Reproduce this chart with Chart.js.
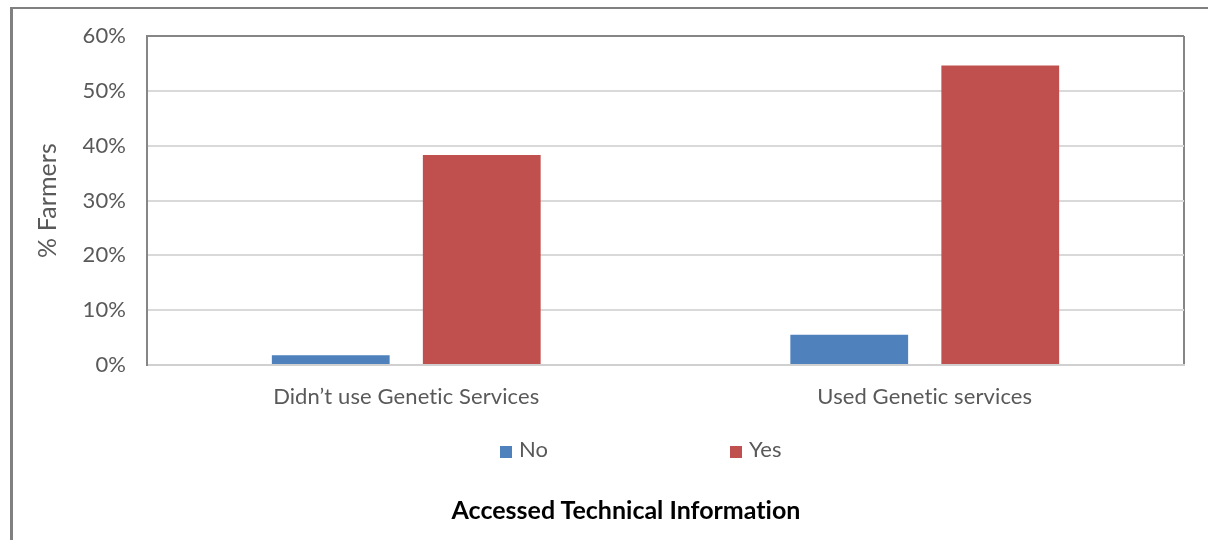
<!DOCTYPE html>
<html>
<head>
<meta charset="utf-8">
<script src="https://cdn.jsdelivr.net/npm/chart.js@4.4.1/dist/chart.umd.min.js"></script>
<style>
  html, body { margin: 0; padding: 0; background: #fff; }
  #wrap { position: relative; width: 1208px; height: 540px; overflow: hidden; font-variant-ligatures: none; }
  #chart { position: absolute; left: 0; top: 0; }
  #frame {
    position: absolute; left: 10px; top: 7px; right: -4px; bottom: -4px;
    border-top: 2px solid #808080; border-left: 3px solid #808080;
    pointer-events: none;
  }
  #legend { position: absolute; top: 437px; left: 0; width: 1208px; height: 24px;
            font: 22px Lato, "Noto Sans", sans-serif; color: #595959; }
  .item { position: absolute; top: 0; height: 24px; line-height: 24px; white-space: nowrap; }
  .item i { display: inline-block; width: 12px; height: 12px; margin-right: 7px; vertical-align: -1px; }
  #xtitle { position: absolute; left: 426px; width: 400px; top: 494px; height: 30px; line-height: 30px;
            text-align: center; font: bold 25px Lato, "Noto Sans", sans-serif; color: #000;
            font-variant-ligatures: none; }
</style>
</head>
<body>
<div id="wrap">
  <canvas id="chart" width="1208" height="540"></canvas>
  <div id="legend"></div>
  <div id="xtitle">Accessed Technical Information</div>
  <div id="frame"></div>
</div>
<script>
// ── Data ─────────────────────────────────────────────────────────────────────
const categories = ['Didn\u2019t use Genetic Services', 'Used Genetic services'];
const seriesNames = ['No', 'Yes'];
const noValues  = [1.8, 5.5];
const yesValues = [38.3, 54.6];
const yTicks = [0, 10, 20, 30, 40, 50, 60];

const COLORS = ['#4F81BD', '#C0504D'];
const TEXT = '#595959';
const FONT = 'Lato, "Noto Sans", sans-serif';
const LEGEND_X = [500, 730];

// Lato joins "ti" into a ligature; a hair of letter spacing keeps letters apart
const noLigatures = {
    id: 'noLigatures',
    beforeDraw: chart => { chart.ctx.letterSpacing = '0.1px'; }
};

// ── Chart ────────────────────────────────────────────────────────────────────
const ctx = document.getElementById('chart').getContext('2d');

new Chart(ctx, {
    type: 'bar',
    data: {
        labels: categories,
        datasets: [
            { label: seriesNames[0], data: noValues,  backgroundColor: COLORS[0] },
            { label: seriesNames[1], data: yesValues, backgroundColor: COLORS[1] }
        ]
    },
    plugins: [noLigatures],
    options: {
        responsive: false,
        animation: false,
        events: [],
        layout: { padding: { top: 36, right: 24, bottom: 0, left: 0 } },
        datasets: { bar: { categoryPercentage: 0.5825, barPercentage: 0.78 } },
        plugins: {
            legend: { display: false },
            tooltip: { enabled: false }
        },
        scales: {
            x: {
                afterFit: s => { s.height = 175; },
                grid: {
                    drawTicks: false,
                    lineWidth: 2,
                    // only the right-hand frame edge of the plot area
                    color: c => (c.index === undefined ? '#868686' : 'rgba(0,0,0,0)')
                },
                border: { color: '#d0d0d0', width: 2 },
                ticks: { color: TEXT, padding: 19, font: { family: FONT, size: 22 } }
            },
            y: {
                min: 0,
                max: 60,
                afterFit: s => { s.width = 147; },
                afterBuildTicks: s => { s.ticks = yTicks.map(v => ({ value: v })); },
                grid: {
                    drawTicks: false,
                    lineWidth: 2,
                    color: c => (c.tick && c.tick.value === 60 ? '#868686' : '#d9d9d9')
                },
                border: { color: '#868686', width: 2 },
                ticks: {
                    color: TEXT,
                    padding: 21,
                    font: { family: FONT, size: 22 },
                    callback: v => v + '%'
                },
                title: {
                    display: true,
                    text: '% Farmers',
                    color: TEXT,
                    font: { family: FONT, size: 25 },
                    padding: { top: 33, bottom: 0 }
                }
            }
        }
    }
});

// ── Legend ───────────────────────────────────────────────────────────────────
const legendEl = document.getElementById('legend');
seriesNames.forEach((name, i) => {
    const item = document.createElement('div');
    item.className = 'item';
    item.style.left = LEGEND_X[i] + 'px';
    item.innerHTML = '<i style="background:' + COLORS[i] + '"></i>' + name;
    legendEl.appendChild(item);
});
</script>
</body>
</html>
